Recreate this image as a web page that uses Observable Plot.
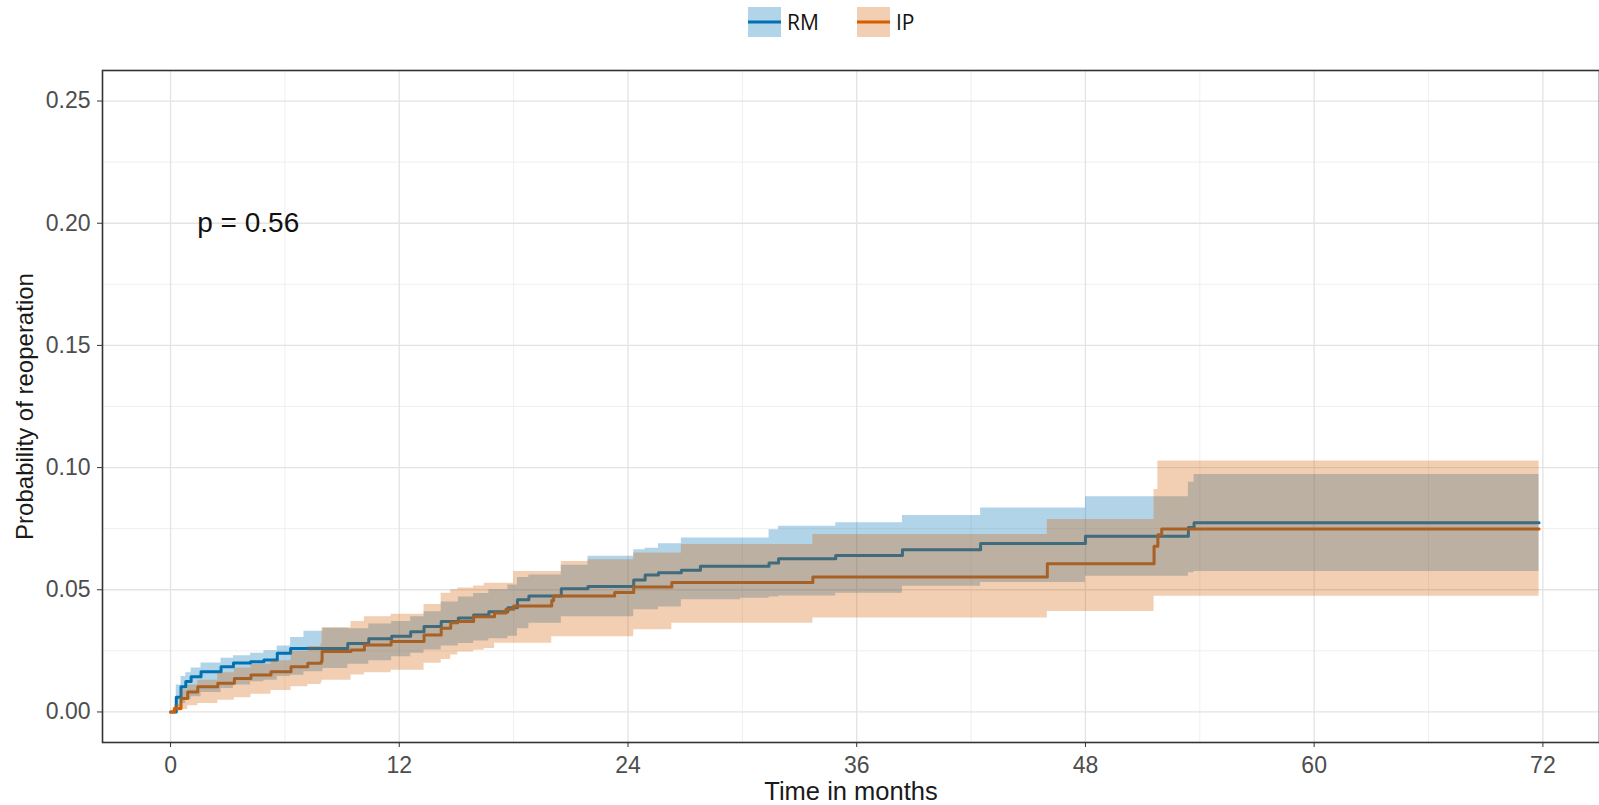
<!DOCTYPE html>
<html>
<head>
<meta charset="utf-8">
<script src="https://cdn.jsdelivr.net/npm/d3@7"></script>
<script src="https://cdn.jsdelivr.net/npm/@observablehq/plot@0.6"></script>
<style>
  html, body { margin: 0; padding: 0; background: #fff; }
  #wrap { width: 1599px; height: 805px; position: relative; overflow: hidden; }
  #legend { height: 50px; position: relative; font-family: "Open Sans", "Liberation Sans", sans-serif; font-size: 21px; color: #111; }
  .key { position: absolute; top: 7px; }
  .lab { position: absolute; top: 7px; line-height: 30px; }
</style>
</head>
<body>
<div id="wrap">
  <div id="legend"></div>
  <div id="chart"></div>
</div>
<script>
// ---- data ----
const groups = ["RM", "IP"];
const groupColors = ["#0072B2", "#D55E00"];

const rmTime = [0, 0.3, 0.55, 0.8, 1.08, 1.6, 2.65, 3.3, 4.2, 4.9, 5.6, 6.3, 7.0, 8.0, 9.3, 10.4, 11.6, 12.6, 13.3, 14.2, 15.1, 15.9, 16.7, 17.7, 18.2, 18.8, 20.5, 21.9, 24.3, 24.9, 25.6, 26.8, 27.8, 29.9, 31.4, 31.9, 34.9, 38.4, 42.5, 48.0, 53.4, 53.7, 71.8];
const rmEst  = [0, 0.006, 0.0103, 0.0125, 0.0144, 0.0165, 0.0185, 0.020, 0.0205, 0.0213, 0.024, 0.026, 0.026, 0.026, 0.028, 0.030, 0.031, 0.0328, 0.035, 0.037, 0.0385, 0.0397, 0.041, 0.0426, 0.0459, 0.0475, 0.0504, 0.0513, 0.054, 0.056, 0.057, 0.058, 0.0596, 0.0596, 0.061, 0.0627, 0.064, 0.0664, 0.0689, 0.0719, 0.0755, 0.0774, 0.0774];
const rmLow  = [0, 0.002, 0.0035, 0.005, 0.0062, 0.008, 0.0096, 0.011, 0.0124, 0.013, 0.0145, 0.015, 0.0165, 0.0178, 0.0195, 0.021, 0.0226, 0.024, 0.0254, 0.027, 0.028, 0.029, 0.030, 0.031, 0.034, 0.0363, 0.039, 0.039, 0.0418, 0.0418, 0.043, 0.0459, 0.0459, 0.0465, 0.047, 0.0475, 0.0486, 0.0514, 0.053, 0.0555, 0.057, 0.0575, 0.0575];
const rmUp   = [0, 0.011, 0.0145, 0.016, 0.018, 0.020, 0.022, 0.023, 0.024, 0.025, 0.027, 0.0305, 0.033, 0.0343, 0.034, 0.036, 0.037, 0.039, 0.041, 0.045, 0.047, 0.0485, 0.050, 0.052, 0.055, 0.056, 0.060, 0.0637, 0.0664, 0.067, 0.0688, 0.0712, 0.0712, 0.0712, 0.0746, 0.076, 0.0774, 0.0804, 0.0835, 0.0881, 0.094, 0.0972, 0.0972];

const ipTime = [0, 0.2, 0.55, 0.9, 1.43, 2.48, 3.35, 4.22, 5.27, 6.32, 7.2, 7.9, 7.95, 9.47, 10.17, 11.57, 13.3, 14.2, 14.7, 15.07, 15.9, 16.46, 17.0, 17.6, 18.0, 20.0, 20.1, 20.5, 21.9, 23.3, 24.3, 26.3, 26.8, 33.7, 46.0, 51.6, 51.8, 52.0, 71.8];
const ipEst  = [0, 0.0014, 0.0055, 0.0082, 0.0103, 0.0117, 0.0137, 0.0151, 0.0165, 0.0185, 0.0199, 0.0206, 0.0247, 0.0254, 0.0274, 0.0288, 0.0315, 0.0343, 0.0365, 0.037, 0.039, 0.039, 0.0405, 0.042, 0.0434, 0.0456, 0.0475, 0.0475, 0.0475, 0.0489, 0.0511, 0.053, 0.053, 0.0552, 0.0607, 0.0678, 0.0725, 0.0749, 0.0749];
const ipLow  = [0, 0.0003, 0.001, 0.0025, 0.0035, 0.0048, 0.0058, 0.0072, 0.0088, 0.0103, 0.0112, 0.012, 0.013, 0.0151, 0.016, 0.0171, 0.0199, 0.0215, 0.0233, 0.0245, 0.0253, 0.026, 0.0281, 0.0281, 0.0281, 0.0308, 0.0308, 0.0308, 0.0308, 0.0308, 0.0336, 0.0363, 0.0363, 0.0384, 0.0411, 0.0473, 0.0473, 0.0473, 0.0473];
const ipUp   = [0, 0.003, 0.009, 0.011, 0.013, 0.016, 0.018, 0.0195, 0.021, 0.0247, 0.0268, 0.028, 0.0345, 0.037, 0.039, 0.040, 0.044, 0.0486, 0.050, 0.0507, 0.0515, 0.0527, 0.0527, 0.0527, 0.0575, 0.0575, 0.0575, 0.0616, 0.0623, 0.0623, 0.065, 0.065, 0.0685, 0.0726, 0.0788, 0.091, 0.1027, 0.1027, 0.1027];

const xTicks = [0, 12, 24, 36, 48, 60, 72];
const xMinor = [6, 18, 30, 42, 54, 66];
const yTicks = [0, 0.05, 0.10, 0.15, 0.20, 0.25];
const yMinor = [0.025, 0.075, 0.125, 0.175, 0.225];
const pText = [{t: 1.4, v: 0.2, label: "p = 0.56"}];
const xTitle = "Time in months";
const yTitle = "Probability of reoperation";

// ---- build tables ----
const rm = rmTime.map((t, i) => ({t, est: rmEst[i], lo: rmLow[i], up: rmUp[i], g: "RM"}));
const ip = ipTime.map((t, i) => ({t, est: ipEst[i], lo: ipLow[i], up: ipUp[i], g: "IP"}));

const font = "Liberation Sans, Arial, sans-serif";

const chart = Plot.plot({
  width: 1599,
  height: 755,
  marginTop: 20,
  marginBottom: 63,
  marginLeft: 102,
  marginRight: 0,
  style: {fontFamily: font, background: "#fff"},
  x: {domain: [-3.57, 74.97]},
  y: {domain: [-0.0125, 0.2625]},
  marks: [
    Plot.ruleX(xMinor, {stroke: "#ebebeb", strokeWidth: 0.8}),
    Plot.ruleY(yMinor, {stroke: "#ebebeb", strokeWidth: 0.8}),
    Plot.ruleX(xTicks, {stroke: "#e3e3e3", strokeWidth: 1.3}),
    Plot.ruleY(yTicks, {stroke: "#e3e3e3", strokeWidth: 1.3}),
    Plot.line(rm, {x: "t", y: "est", curve: "step-after", stroke: groupColors[0], strokeWidth: 3}),
    Plot.line(ip, {x: "t", y: "est", curve: "step-after", stroke: groupColors[1], strokeWidth: 3}),
    Plot.areaY(rm, {x: "t", y1: "lo", y2: "up", curve: "step-after", fill: groupColors[0], fillOpacity: 0.3}),
    Plot.areaY(ip, {x: "t", y1: "lo", y2: "up", curve: "step-after", fill: groupColors[1], fillOpacity: 0.3}),
    Plot.text(pText, {x: "t", y: "v", text: "label", textAnchor: "start", fontSize: 28, fill: "#111", fontFamily: font}),
    Plot.frame({stroke: "#333", strokeWidth: 1.6}),
    Plot.axisX(xTicks, {tickSize: 5, tickPadding: 9, fontSize: 23, color: "#4d4d4d", stroke: "#333", label: null, tickFormat: d => String(d)}),
    Plot.axisY(yTicks, {tickSize: 5, tickPadding: 7, fontSize: 23, color: "#4d4d4d", stroke: "#333", label: null, tickFormat: d3.format(".2f")}),
    Plot.text([xTitle], {frameAnchor: "bottom", dy: 49, text: d => d, fontSize: 25.5, fill: "#1a1a1a", lineAnchor: "middle"}),
    Plot.text([yTitle], {frameAnchor: "left", dx: -77, rotate: -90, textAnchor: "middle", text: d => d, fontSize: 24, fill: "#1a1a1a", lineAnchor: "middle"})
  ]
});
document.getElementById("chart").appendChild(chart);

// ---- legend (HTML, above the SVG) ----
const legend = document.getElementById("legend");
const keyX = [748, 857];
const labX = [787, 896];
groups.forEach((g, i) => {
  const key = document.createElementNS("http://www.w3.org/2000/svg", "svg");
  key.setAttribute("class", "key");
  key.setAttribute("width", 33);
  key.setAttribute("height", 30);
  key.style.left = keyX[i] + "px";
  key.innerHTML = `<rect width="33" height="30" fill="#fff"/>` +
    `<line x1="0" x2="33" y1="15" y2="15" stroke="${groupColors[i]}" stroke-width="3"/>` +
    `<rect width="33" height="30" fill="${groupColors[i]}" fill-opacity="0.3"/>`;
  legend.appendChild(key);
  const lab = document.createElement("div");
  lab.className = "lab";
  lab.style.left = labX[i] + "px";
  lab.textContent = g;
  legend.appendChild(lab);
});
</script>
</body>
</html>
